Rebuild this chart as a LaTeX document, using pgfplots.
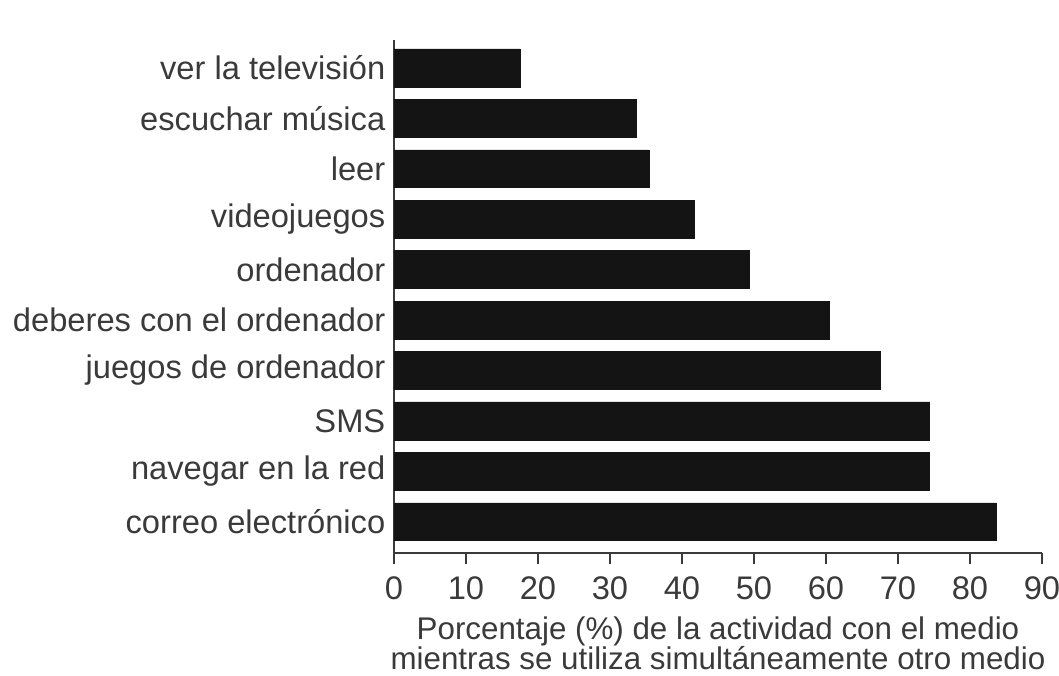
\documentclass[border=0pt]{standalone}
\usepackage{pgfplots}
\pgfplotsset{compat=1.18}
\usepackage{fontspec}
\setmainfont{Liberation Sans}
\definecolor{txt}{HTML}{3A3A3A}
\definecolor{barc}{HTML}{141414}
\begin{document}
\begin{tikzpicture}[x=1pt,y=1pt]
% picture frame: 1059x675 px at 0.75pt/px, axis box at the origin
\useasboundingbox (-295.5,-91.5) rectangle (498.75,414.75);
\begin{axis}[
    at={(0,0)}, anchor=south west,
    scale only axis,
    width=486pt, height=385pt,
    xbar, bar width=0.75,
    xmin=0, xmax=90,
    ymin=-0.62, ymax=9.56,
    axis lines=left,
    axis line style={-, txt, line width=1.2pt},
    xtick={0,10,...,90},
    ytick={0,...,9},
    yticklabels={correo electrónico, navegar en la red, SMS, juegos de ordenador,
        deberes con el ordenador, ordenador, videojuegos, leer, escuchar música,
        ver la televisión},
    major tick length=8pt,
    xtick style={txt, line width=1.2pt},
    ytick style={draw=none},
    tick align=outside,
    every tick label/.style={font=\fontsize{24.5}{26}\selectfont, text=txt},
    yticklabel style={xshift=5pt},
    xticklabel style={yshift=-6pt},
    /pgf/number format/assume math mode=true,
    xlabel={Porcentaje (\%) de la actividad con el medio\\mientras se utiliza simultáneamente otro medio},
    xlabel style={font=\fontsize{23.5}{22.5}\selectfont, text=txt, align=center, yshift=-6pt},
    clip=false,
]
\addplot[fill=barc, draw=barc] coordinates {
    (83.6,0) (74.4,1) (74.4,2) (67.5,3) (60.5,4)
    (49.3,5) (41.7,6) (35.4,7) (33.6,8) (17.5,9)
};
\end{axis}
\end{tikzpicture}
\end{document}
